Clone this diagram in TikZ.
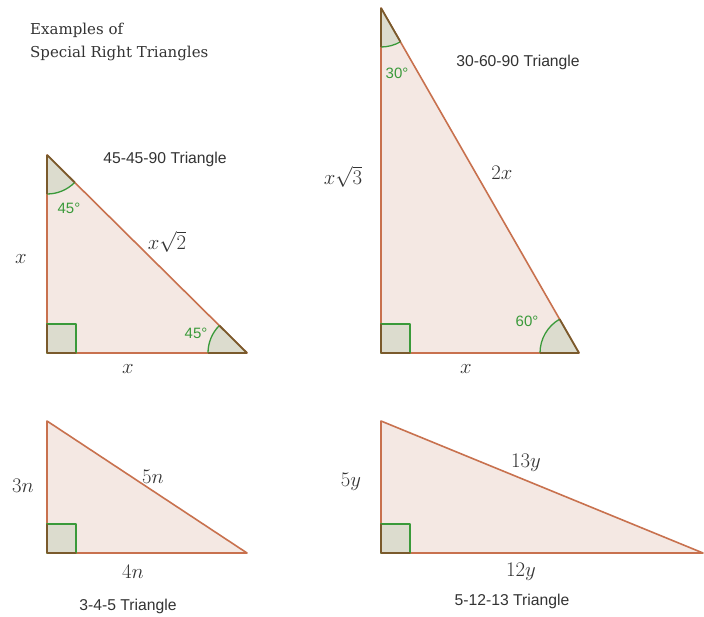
\documentclass[tikz,border=0pt]{standalone}
\usepackage{fontspec}
\setmainfont{Liberation Sans}
\newfontfamily\slabfont{DejaVu Serif}
\usetikzlibrary{angles, calc}
\definecolor{trifill}{HTML}{F4E8E3}
\definecolor{triedge}{HTML}{C8714E}
\definecolor{angfill}{HTML}{DCDCCE}
\definecolor{anggreen}{HTML}{3A9A3A}
\definecolor{angdark}{HTML}{7A5A2C}
\definecolor{ctext}{HTML}{333333}
\tikzset{
  every picture/.style={x=1pt, y=-1pt, line join=round},
  tri/.style={draw=triedge, fill=trifill, line width=1.6pt},
  angmark/.style={draw=anggreen, fill=angfill, line width=1.3pt, angle radius=39pt},
  rightmark/.style={draw=anggreen, fill=angfill, line width=1.3pt},
  darkleg/.style={draw=angdark, line width=1.8pt},
  titletext/.style={font=\slabfont\fontsize{15}{23}\selectfont, text=ctext, align=left, inner sep=0pt},
  caption/.style={font=\fontsize{15.7}{18}\selectfont, text=ctext},
  anglbl/.style={font=\fontsize{15}{17}\selectfont, text=anggreen},
  side/.style={font=\fontsize{20.5}{24}\selectfont, text=ctext},
}

\begin{document}
\begin{tikzpicture}
  \useasboundingbox[fill=white] (0,0) rectangle (704,617);
  % corners: A top, B right angle, C far end
  \coordinate (isoA) at (47,155);  \coordinate (isoB) at (47,353);  \coordinate (isoC) at (247,353);
  \coordinate (semA) at (381,8);   \coordinate (semB) at (381,353); \coordinate (semC) at (579,353);
  \coordinate (tfA) at (47,421);   \coordinate (tfB) at (47,553);   \coordinate (tfC) at (247,553);
  \coordinate (ftA) at (381,421);  \coordinate (ftB) at (381,553);  \coordinate (ftC) at (703,553);

  \foreach \tr in {iso,sem,tf,ft}{
    \draw[tri] (\tr A) -- (\tr B) -- (\tr C) -- cycle;
    \draw[rightmark] (\tr B) rectangle ++(29,-29);
    \draw[darkleg] (\tr B) -- ++(29,0) (\tr B) -- ++(0,-29);
  }

  \pic[angmark] {angle=isoB--isoA--isoC};
  \pic[angmark] {angle=isoA--isoC--isoB};
  \pic[angmark] {angle=semB--semA--semC};
  \pic[angmark] {angle=semA--semC--semB};
  \foreach \v/\p/\q in {isoA/isoB/isoC, isoC/isoA/isoB, semA/semB/semC, semC/semA/semB}
    \draw[darkleg] (\v) -- ($(\v)!39pt!(\p)$) (\v) -- ($(\v)!39pt!(\q)$);

  \node[titletext, anchor=north west] (title) at (30,23) {Examples of\\Special Right Triangles};

  % 45-45-90
  \node[caption] (isocap) at (165,159) {45-45-90 Triangle};
  \node[anglbl] (isotop) at (69,208) {45°};
  \node[anglbl] (isoend) at (196,333) {45°};
  \node[side] (isoleg) at (21,259) {$x$};
  \node[side] (isobase) at (128,369) {$x$};
  \node[side] (isohyp) at (167,242) {$x\sqrt{2}$};

  % 30-60-90
  \node[caption] (semcap) at (518,62) {30-60-90 Triangle};
  \node[anglbl] (semtop) at (397,73) {30°};
  \node[anglbl] (semend) at (527,321) {60°};
  \node[side] (semleg) at (343,177) {$x\sqrt{3}$};
  \node[side] (semhyp) at (502,173) {$2x$};
  \node[side] (sembase) at (466,369) {$x$};

  % 3-4-5
  \node[side] (tfleg) at (23,486) {$3n$};
  \node[side] (tfhyp) at (153,477) {$5n$};
  \node[side] (tfbase) at (133,572) {$4n$};
  \node[caption] (tfcap) at (128,606) {3-4-5 Triangle};

  % 5-12-13
  \node[side] (ftleg) at (351,482) {$5y$};
  \node[side] (fthyp) at (526,463) {$13y$};
  \node[side] (ftbase) at (521,572) {$12y$};
  \node[caption] (ftcap) at (512,601) {5-12-13 Triangle};
\end{tikzpicture}
\end{document}
